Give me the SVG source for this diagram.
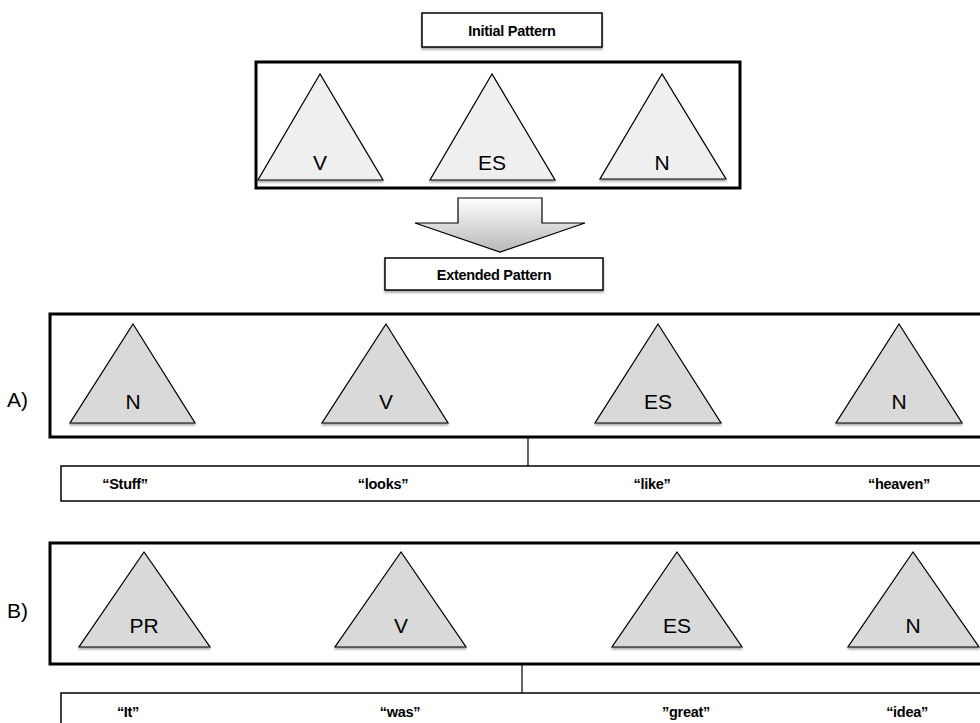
<svg xmlns="http://www.w3.org/2000/svg" width="980" height="723" viewBox="0 0 980 723">
<defs>
<linearGradient id="arrowGrad" x1="0" y1="0" x2="0" y2="1">
<stop offset="0" stop-color="#ffffff"/>
<stop offset="1" stop-color="#b8b8b8"/>
</linearGradient>
<filter id="sh" x="-10%" y="-10%" width="130%" height="130%">
<feGaussianBlur in="SourceAlpha" stdDeviation="1.2"/>
<feOffset dx="0" dy="2" result="b"/>
<feComponentTransfer><feFuncA type="linear" slope="0.35"/></feComponentTransfer>
<feMerge><feMergeNode/><feMergeNode in="SourceGraphic"/></feMerge>
</filter>
</defs>
<style>
.frame{fill:#ffffff;stroke:#000;stroke-width:3}
.box{fill:#ffffff;stroke:#000;stroke-width:1.5}
.tri1{fill:#efefef;stroke:#000;stroke-width:1.2}
.tri2{fill:#d9d9d9;stroke:#000;stroke-width:1.2}
.lbl{font-family:"Liberation Sans",Arial,sans-serif;font-size:21px;text-anchor:middle;fill:#000}
.title{font-family:"Liberation Sans",Arial,sans-serif;font-size:14.5px;font-weight:bold;text-anchor:middle;fill:#000;letter-spacing:-0.3px}
.word{font-family:"Liberation Sans",Arial,sans-serif;font-size:14.5px;font-weight:bold;text-anchor:middle;fill:#000;letter-spacing:-0.3px}
.side{font-family:"Liberation Sans",Arial,sans-serif;font-size:21px;fill:#000}
.conn{stroke:#000;stroke-width:1.2;fill:none}
</style>
<rect width="980" height="723" fill="#ffffff"/>

<g id="initial-title">
<rect class="box" x="422" y="13" width="180" height="34" filter="url(#sh)"/>
<text class="title" x="512" y="36">Initial Pattern</text>
</g>

<g id="initial-frame">
<rect class="frame" x="256" y="62" width="484" height="126"/>
</g>
<g id="init-V">
<polygon class="tri1" points="320,74 258,180 383,180" filter="url(#sh)"/>
<text class="lbl" x="320" y="170">V</text>
</g>
<g id="init-ES">
<polygon class="tri1" points="492,74 430,180 555,180" filter="url(#sh)"/>
<text class="lbl" x="492" y="170">ES</text>
</g>
<g id="init-N">
<polygon class="tri1" points="662,74 600,179 726,179" filter="url(#sh)"/>
<text class="lbl" x="662" y="170">N</text>
</g>

<g id="connectors">
<polygon points="458,198 542,198 542,223 585,223 500,252 415,223 458,223" fill="url(#arrowGrad)" stroke="#000" stroke-width="1.2"/>
<line class="conn" x1="528" y1="437" x2="528" y2="466"/>
<line class="conn" x1="522" y1="664" x2="522" y2="693"/>
</g>

<g id="extended-title">
<rect class="box" x="385" y="258" width="218" height="32" filter="url(#sh)"/>
<text class="title" x="494" y="280">Extended Pattern</text>
</g>

<text class="side" x="7" y="407">A)</text>
<g id="frameA">
<rect class="frame" x="50" y="314" width="940" height="123"/>
</g>
<g id="A-N1">
<polygon class="tri2" points="133,324 70,423 195,423" filter="url(#sh)"/>
<text class="lbl" x="133" y="409">N</text>
</g>
<g id="A-V">
<polygon class="tri2" points="386,324 322,423 448,423" filter="url(#sh)"/>
<text class="lbl" x="386" y="409">V</text>
</g>
<g id="A-ES">
<polygon class="tri2" points="658,324 595,423 721,423" filter="url(#sh)"/>
<text class="lbl" x="658" y="409">ES</text>
</g>
<g id="A-N2">
<polygon class="tri2" points="899,324 836,423 962,423" filter="url(#sh)"/>
<text class="lbl" x="899" y="409">N</text>
</g>
<g id="wordsA">
<rect class="box" x="61" y="466" width="930" height="35"/>
<text class="word" x="125" y="489">“Stuff”</text>
<text class="word" x="383" y="489">“looks”</text>
<text class="word" x="652" y="489">“like”</text>
<text class="word" x="899" y="489">“heaven”</text>
</g>

<text class="side" x="7" y="618">B)</text>
<g id="frameB">
<rect class="frame" x="50" y="543" width="940" height="121"/>
</g>
<g id="B-PR">
<polygon class="tri2" points="144,552 79,647 210,647" filter="url(#sh)"/>
<text class="lbl" x="144" y="633">PR</text>
</g>
<g id="B-V">
<polygon class="tri2" points="401,552 335,647 466,647" filter="url(#sh)"/>
<text class="lbl" x="401" y="633">V</text>
</g>
<g id="B-ES">
<polygon class="tri2" points="677,552 612,647 742,647" filter="url(#sh)"/>
<text class="lbl" x="677" y="633">ES</text>
</g>
<g id="B-N">
<polygon class="tri2" points="913,552 848,647 979,647" filter="url(#sh)"/>
<text class="lbl" x="913" y="633">N</text>
</g>
<g id="wordsB">
<rect class="box" x="61" y="693" width="930" height="40"/>
<text class="word" x="128" y="717">“It”</text>
<text class="word" x="400" y="717">“was”</text>
<text class="word" x="686" y="717">”great”</text>
<text class="word" x="907" y="717">“idea”</text>
</g>
</svg>
